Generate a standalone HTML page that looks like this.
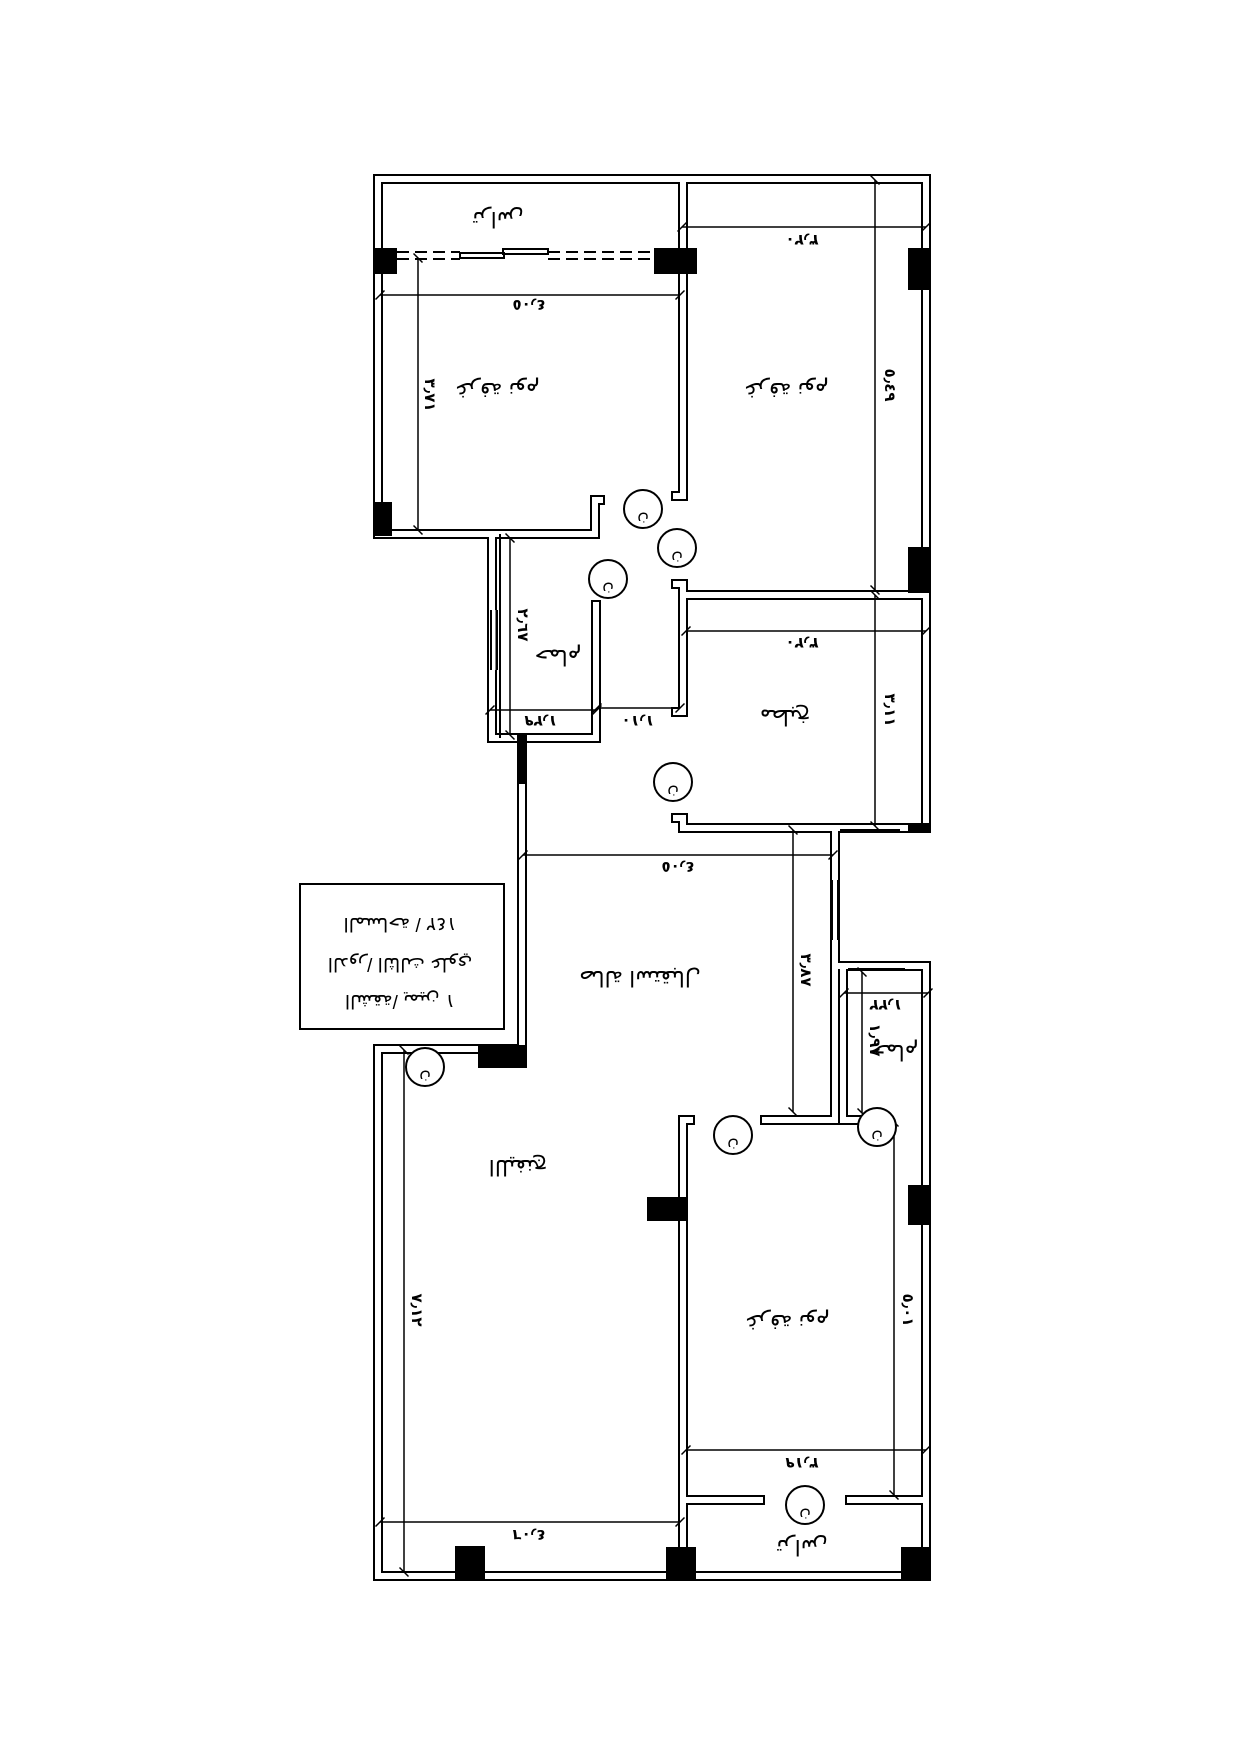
<!DOCTYPE html>
<html><head><meta charset="utf-8"><style>
html,body{margin:0;padding:0;background:#fff}
svg{display:block}
text{font-family:"Liberation Sans","DejaVu Sans",sans-serif;fill:#000}
</style></head><body>
<svg width="1241" height="1755" viewBox="0 0 1241 1755" xmlns="http://www.w3.org/2000/svg">
<defs>
<marker id="t" markerWidth="8" markerHeight="8" refX="4" refY="4" orient="auto"><path d="M1,7 L7,1" stroke="#000" stroke-width="1"/></marker>
</defs>
<g fill="none" stroke-linecap="square" stroke-linejoin="miter">
<g stroke="#000" stroke-width="10">
<path d="M378,179 H926 V828"/>
<path d="M378,179 V534 H595 V500 H600"/>
<path d="M683,179 V496 H676"/>
<path d="M676,584 H683 V712 H676"/>
<path d="M683,595 H926"/>
<path d="M676,818 H683 V828 H926"/>
<path d="M492,534 V738 H596 V605"/>
<path d="M835,828 V1120"/>
<path d="M839,966 H926 V1576"/>
<path d="M843,966 V1120"/>
<path d="M765,1120 H835 M843,1120 H865"/>
<path d="M522,738 V1049"/>
<path d="M378,1049 H522"/>
<path d="M378,1049 V1576 H926"/>
<path d="M690,1120 H683 V1576"/>
<path d="M683,1500 H760 M850,1500 H926"/>
</g>
<g stroke="#fff" stroke-width="6">
<path d="M378,179 H926 V828"/>
<path d="M378,179 V534 H595 V500 H600"/>
<path d="M683,179 V496 H676"/>
<path d="M676,584 H683 V712 H676"/>
<path d="M683,595 H926"/>
<path d="M676,818 H683 V828 H926"/>
<path d="M492,534 V738 H596 V605"/>
<path d="M835,828 V1120"/>
<path d="M839,966 H926 V1576"/>
<path d="M843,966 V1120"/>
<path d="M765,1120 H835 M843,1120 H865"/>
<path d="M522,738 V1049"/>
<path d="M378,1049 H522"/>
<path d="M378,1049 V1576 H926"/>
<path d="M690,1120 H683 V1576"/>
<path d="M683,1500 H760 M850,1500 H926"/>
</g>
</g>
<g stroke="#000" stroke-width="2" fill="none">
<path d="M730,183 H880"/>
<path d="M500,534 V738"/>
<line x1="494" y1="610" x2="494" y2="670" stroke="#fff" stroke-width="3"/>
<path d="M491,610 V670 M497,610 V670"/>
<path d="M835,880 V940" stroke="#fff" stroke-width="3"/>
<path d="M832,880 V940 M838,880 V940"/>
<path d="M840,830 H900" />
<path d="M848,962 H905 M848,969 H905"/>
</g>
<g stroke="#000" stroke-width="2" fill="none">
<path d="M397,252 H460 M397,259 H460" stroke-dasharray="12,6"/>
<path d="M548,252 H667 M548,259 H667" stroke-dasharray="12,6"/>
<rect x="460" y="253" width="44" height="5"/>
<rect x="503" y="249" width="45" height="5"/>
</g>
<g fill="#000">
<rect x="374" y="248" width="23" height="26"/>
<rect x="654" y="248" width="43" height="26"/>
<rect x="908" y="248" width="22" height="42"/>
<rect x="908" y="547" width="22" height="46"/>
<rect x="374" y="502" width="18" height="34"/>
<rect x="908" y="823" width="22" height="9"/>
<rect x="517" y="734" width="10" height="50"/>
<rect x="478" y="1045" width="49" height="23"/>
<rect x="647" y="1197" width="40" height="24"/>
<rect x="908" y="1185" width="22" height="40"/>
<rect x="455" y="1546" width="30" height="34"/>
<rect x="666" y="1547" width="30" height="33"/>
<rect x="901" y="1547" width="29" height="33"/>
</g>
<g stroke="#000" stroke-width="1.5" marker-start="url(#t)" marker-end="url(#t)">
<line x1="682" y1="227" x2="926" y2="227"/>
<line x1="875" y1="180" x2="875" y2="590"/>
<line x1="380" y1="295" x2="680" y2="295"/>
<line x1="418" y1="258" x2="418" y2="530"/>
<line x1="510" y1="538" x2="510" y2="735"/>
<line x1="490" y1="710" x2="597" y2="710"/>
<line x1="597" y1="708" x2="680" y2="708"/>
<line x1="686" y1="631" x2="926" y2="631"/>
<line x1="875" y1="595" x2="875" y2="826"/>
<line x1="523" y1="855" x2="833" y2="855"/>
<line x1="793" y1="830" x2="793" y2="1112"/>
<line x1="844" y1="993" x2="928" y2="993"/>
<line x1="862" y1="972" x2="862" y2="1113"/>
<line x1="686" y1="1450" x2="926" y2="1450"/>
<line x1="894" y1="1122" x2="894" y2="1495"/>
<line x1="380" y1="1522" x2="680" y2="1522"/>
<line x1="404" y1="1050" x2="404" y2="1572"/>
</g>
<g fill="#fff" stroke="#000" stroke-width="2">
<circle cx="643" cy="509" r="19"/>
<circle cx="677" cy="548" r="19"/>
<circle cx="608" cy="579" r="19"/>
<circle cx="673" cy="782" r="19"/>
<circle cx="425" cy="1067" r="19"/>
<circle cx="733" cy="1135" r="19"/>
<circle cx="877" cy="1127" r="19"/>
<circle cx="805" cy="1505" r="19"/>
</g>
<g font-size="16" text-anchor="middle">
<text transform="translate(643,515) rotate(180)">ن</text>
<text transform="translate(677,554) rotate(180)">ن</text>
<text transform="translate(608,585) rotate(180)">ن</text>
<text transform="translate(673,788) rotate(180)">ن</text>
<text transform="translate(425,1073) rotate(180)">ن</text>
<text transform="translate(733,1141) rotate(180)">ن</text>
<text transform="translate(877,1133) rotate(180)">ن</text>
<text transform="translate(805,1511) rotate(180)">ن</text>
</g>
<rect x="300" y="884" width="204" height="145" fill="none" stroke="#000" stroke-width="2"/>
<g font-size="19" text-anchor="middle">
<text transform="translate(400,918) rotate(180)">المساحة /   ١٤٢</text>
<text transform="translate(400,958) rotate(180)">الدور/ الثالث علوي</text>
<text transform="translate(400,995) rotate(180)">الشقة/ يمين ١</text>
</g>
<g font-size="22" text-anchor="middle">
<text transform="translate(498,212) rotate(180)">تراس</text>
<text transform="translate(498,383) rotate(180)">غرفة نوم</text>
<text transform="translate(787,383) rotate(180)">غرفة نوم</text>
<text transform="translate(558,650) rotate(180)">حمام</text>
<text transform="translate(785,710) rotate(180)">مطبخ</text>
<text transform="translate(640,971) rotate(180)">صالة استقبال</text>
<text transform="translate(518,1160) rotate(180)">الليفنج</text>
<text transform="translate(895,1045) rotate(180)">حمام</text>
<text transform="translate(788,1315) rotate(180)">غرفة نوم</text>
<text transform="translate(802,1540) rotate(180)">تراس</text>
</g>
<g font-size="15" font-weight="bold" text-anchor="middle">
<text transform="translate(802,235) rotate(180)">٣٫٢٠</text>
<text transform="translate(529,300) rotate(180)">٤٫٠٥</text>
<text transform="translate(425,395) rotate(90)">٣٫٧١</text>
<text transform="translate(885,385) rotate(90)">٥٫٤٩</text>
<text transform="translate(518,625) rotate(90)">٢٫٦٧</text>
<text transform="translate(541,716) rotate(180)">١٫٢٩</text>
<text transform="translate(638,716) rotate(180)">١٫١٠</text>
<text transform="translate(802,638) rotate(180)">٣٫٢٠</text>
<text transform="translate(885,710) rotate(90)">٣٫١١</text>
<text transform="translate(678,862) rotate(180)">٤٫٠٥</text>
<text transform="translate(801,970) rotate(90)">٣٫٨٧</text>
<text transform="translate(886,1000) rotate(180)">١٫٢٢</text>
<text transform="translate(870,1040) rotate(90)">١٫٩٧</text>
<text transform="translate(802,1458) rotate(180)">٣٫١٩</text>
<text transform="translate(903,1310) rotate(90)">٥٫٠١</text>
<text transform="translate(529,1530) rotate(180)">٤٫٠٦</text>
<text transform="translate(412,1310) rotate(90)">٧٫١٢</text>
</g>
</svg>
</body></html>
